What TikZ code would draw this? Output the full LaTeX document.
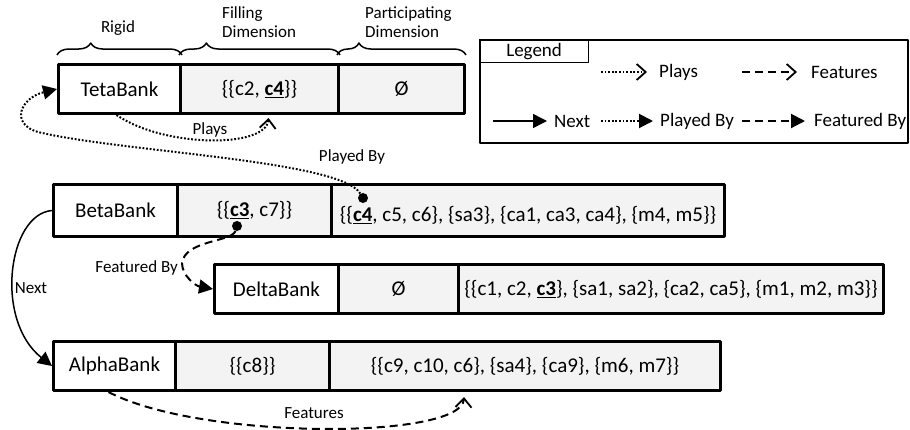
\documentclass[tikz,border=0pt]{standalone}
\usepackage{fontspec}
\setmainfont{Carlito}
\usetikzlibrary{arrows.meta,decorations.pathreplacing}
\definecolor{cellgray}{HTML}{F3F3F3}

\begin{document}
\begin{tikzpicture}[x=1pt,y=-1pt,line join=round,
	cell/.style={draw,line width=3pt,anchor=north west,minimum height=49pt,inner sep=0pt,font=\fontsize{21}{24}\selectfont},
	datacell/.style={cell,fill=cellgray},
	lbl/.style={inner sep=0pt,font=\fontsize{17}{19}\selectfont},
	leg/.style={inner sep=0pt,anchor=west,font=\fontsize{19}{22}\selectfont},
	brc/.style={decorate,decoration={brace,amplitude=12pt,aspect=#1},line width=1.5pt},
	plays/.style={line width=2pt,dash pattern=on 1.8pt off 1.8pt,-{Straight Barb[length=9pt,width=16pt,line width=1.8pt]}},
	playedby/.style={line width=2pt,dash pattern=on 1.8pt off 1.8pt,-{Triangle[length=14pt,width=14pt]}},
	features/.style={line width=2pt,dash pattern=on 8pt off 5pt,-{Straight Barb[length=9pt,width=16pt,line width=1.8pt]}},
	featuredby/.style={line width=2pt,dash pattern=on 8pt off 5pt,-{Triangle[length=14pt,width=14pt]}},
	next/.style={line width=1.5pt,-{Triangle[length=14pt,width=14pt]}},
	dot/.style={circle,fill,inner sep=0pt,minimum size=10pt}]
	\useasboundingbox (0,0) rectangle (910,429);
	% Teta row
	\node[cell,minimum width=122pt] (teta) at (57,63) {TetaBank};
	\node[datacell,minimum width=158pt] (tetaF) at (179,63) {\{\{c2, \underline{\textbf{c4}}\}\}};
	\node[datacell,minimum width=126pt] (tetaP) at (337,63) {Ø};
	\draw[brc=0.27] ([yshift=8pt]teta.north west) -- ([yshift=8pt]teta.north east);
	\draw[brc=0.17] ([yshift=8pt]tetaF.north west) -- ([yshift=8pt]tetaF.north east);
	\draw[brc=0.17] ([yshift=8pt]tetaP.north west) -- ([yshift=8pt]tetaP.north east);
	\node[lbl] (rigid) at (118,28) {Rigid};
	\node[lbl,anchor=west,align=left] (filling) at (222,22) {Filling\\Dimension};
	\node[lbl,anchor=west,align=left] (particip) at (365,22) {Participating\\Dimension};
	% Beta, Delta, Alpha rows
	\node[cell,minimum width=124pt,minimum height=52pt] (beta) at (52,183) {BetaBank};
	\node[datacell,minimum width=154pt,minimum height=52pt] (betaF) at (176,183) {\{\{\underline{\textbf{c3}}, c7\}\}};
	\node[datacell,minimum width=393pt,minimum height=52pt,text height=26pt,text depth=4pt] (betaP) at (330,183) {\{\{\underline{\textbf{c4}}, c5, c6\}, \{sa3\}, \{ca1, ca3, ca4\}, \{m4, m5\}\}};
	\node[cell,minimum width=124pt] (delta) at (213,263) {DeltaBank};
	\node[datacell,minimum width=120pt] (deltaF) at (337,263) {Ø};
	\node[datacell,minimum width=425pt] (deltaP) at (457,263) {\{\{c1, c2, \underline{\textbf{c3}}\}, \{sa1, sa2\}, \{ca2, ca5\}, \{m1, m2, m3\}\}};
	\node[cell,minimum width=122pt] (alpha) at (52,340) {AlphaBank};
	\node[datacell,minimum width=154pt] (alphaF) at (174,340) {\{\{c8\}\}};
	\node[datacell,minimum width=391pt] (alphaP) at (328,340) {\{\{c9, c10, c6\}, \{sa4\}, \{ca9\}, \{m6, m7\}\}};
	% relations
	\node[dot] (pbdot) at ([xshift=33pt,yshift=-15pt]betaP.north west) {};
	\node[dot] (fbdot) at ([xshift=61pt,yshift=-43pt]betaF.north west) {};
	\coordinate (pbturn) at (38,132);
	\coordinate (fbturn) at (182,263);
	\draw[plays] ([xshift=-3pt]teta.south) .. controls (165,148) and (266,148) .. ([xshift=9pt,yshift=-3pt]tetaF.south);
	\node[lbl] (playslbl) at (210,130) {Plays};
	\draw[playedby] (pbdot) .. controls (340,160) and (120,152) .. (pbturn) .. controls (10,124) and (20,98) .. (teta.west);
	\node[lbl] (playedbylbl) at (352,157) {Played By};
	\draw[featuredby] (fbdot) .. controls (232,242) and (185,240) .. (fbturn) .. controls (182,276) and (196,286) .. (delta.west);
	\node[lbl,anchor=east] (featuredbylbl) at (178,268) {Featured By};
	\draw[next] (beta.west) .. controls (8,214) and (-6,320) .. (alpha.west);
	\node[lbl] (nextlbl) at (31,288) {Next};
	\draw[features] ([xshift=-6pt]alpha.south) .. controls (200,440) and (462,440) .. ([xshift=-61pt,yshift=-5pt]alphaP.south);
	\node[lbl] (featureslbl) at (314,413) {Features};
	% legend
	\node[draw,line width=1.5pt,anchor=north west,minimum width=428pt,minimum height=103pt,inner sep=0pt] (legend) at (479,39) {};
	\node[draw,line width=1.2pt,anchor=north west,minimum width=109pt,minimum height=23pt,inner sep=0pt,font=\fontsize{19}{22}\selectfont] (legtab) at (479,39) {Legend};
	\node[leg] (lplays) at (659,72) {Plays};
	\node[leg] (lfeatures) at (811,72) {Features};
	\node[leg] (lnext) at (554,121) {Next};
	\node[leg] (lplayedby) at (660,121) {Played By};
	\node[leg] (lfeaturedby) at (814,121) {Featured By};
	\draw[plays] ([xshift=-58pt]lplays.west) -- ([xshift=-12pt]lplays.west);
	\draw[features] ([xshift=-69pt]lfeatures.west) -- ([xshift=-14pt]lfeatures.west);
	\draw[next] ([xshift=-61pt]lnext.west) -- ([xshift=-7pt]lnext.west);
	\draw[playedby] ([xshift=-59pt]lplayedby.west) -- ([xshift=-7pt]lplayedby.west);
	\draw[featuredby] ([xshift=-72pt]lfeaturedby.west) -- ([xshift=-9pt]lfeaturedby.west);
\end{tikzpicture}
\end{document}
